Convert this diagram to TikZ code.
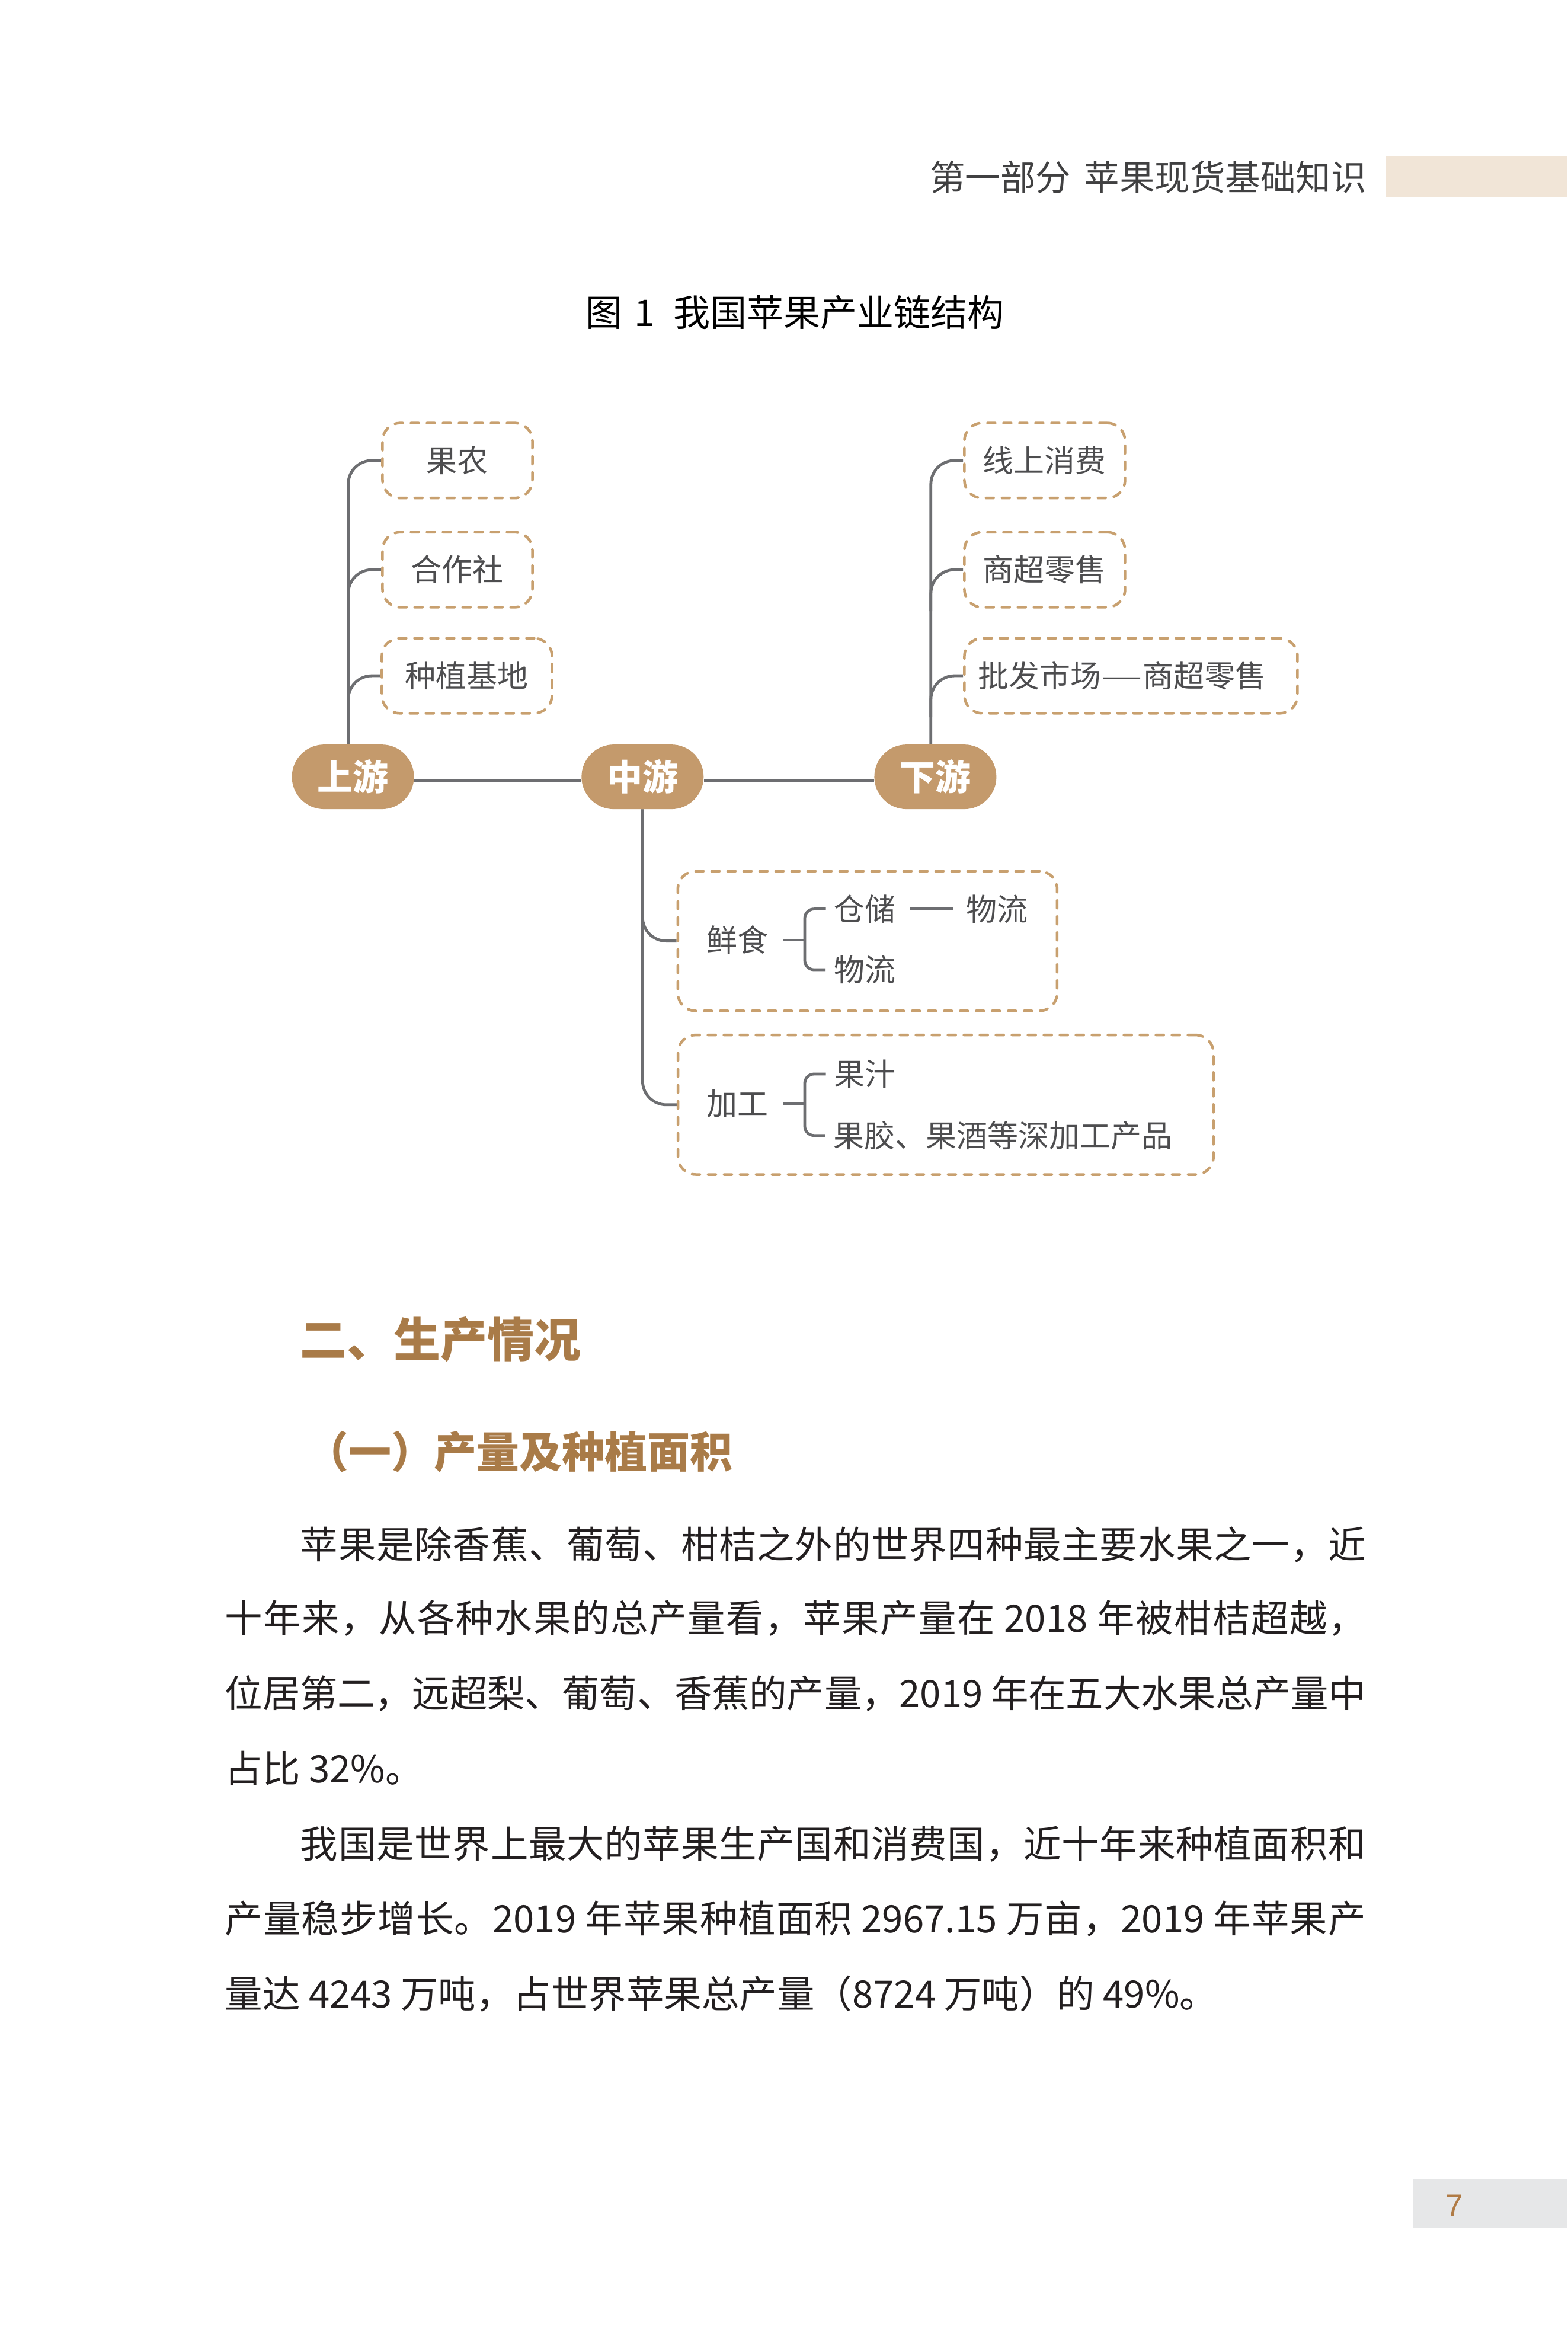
\documentclass[tikz,border=0pt]{standalone}
\usepackage{graphicx}
\usepackage{fontspec}
\setmainfont{Noto Sans CJK SC}
\newfontfamily\numfont{Liberation Sans}
\usetikzlibrary{shapes.misc,backgrounds}
\definecolor{cTan}{HTML}{C49A6C}
\definecolor{cDash}{HTML}{C8A06F}
\definecolor{cConn}{HTML}{6D6E71}
\definecolor{cBoxTxt}{HTML}{4D4D4F}
\definecolor{cBrown}{HTML}{A97B48}
\definecolor{cHdrBar}{HTML}{F1E5D7}
\definecolor{cPgBar}{HTML}{E6E7E8}
\definecolor{cPgNum}{HTML}{B07B45}
\definecolor{cBody}{HTML}{231F20}
\definecolor{cHdr}{HTML}{404041}
\newcommand\setfs[1]{\fontsize{#1pt}{#1pt}\selectfont}
\newskip\sprglue \sprglue=0pt plus 1fil minus 1fil
\def\sprend{\sprend@@}
\newcommand\spr[1]{#1\sprx}
\newcommand\sprx[1]{\ifx\sprend#1\else\hskip\sprglue #1\expandafter\sprx\fi}
\tikzset{
  pill/.style={rounded rectangle, fill=cTan, minimum width=206pt, minimum height=109pt,
    inner sep=0pt, text=white, font=\setfs{60}\bfseries, text height=49.8pt, text depth=4.2pt},
  dbox/.style={draw=cDash, line width=4.5pt, dash pattern=on 13pt off 14pt, line cap=round,
    rounded corners=30pt, inner sep=0pt, text=cBoxTxt, font=\setfs{52},
    text height=43.2pt, text depth=3.6pt},
  conn/.style={draw=cConn, line width=4.8pt},
  lbl/.style={inner sep=0pt, text=cBoxTxt, font=\setfs{52}, text height=43.2pt, text depth=3.6pt},
  body/.style={inner sep=0pt, anchor=base west, text=cBody, font=\setfs{63.5}},
}
\begin{document}
\begin{tikzpicture}[x=2.5311pt, y=-2.5306pt]
\useasboundingbox (0,0) rectangle (1045,1568);
% header
\fill[cHdrBar] (924,104.4) rectangle (1045,131.7);
\node[anchor=base east, inner sep=0pt, text=cHdr, font=\setfs{59.5}] (hdr) at (911,127.2)
  {第一部分\hspace{0.38em}苹果现货基础知识};
% title
\node[anchor=base, inner sep=0pt, text=black, font=\setfs{62}] (title) at (530,217.4)
  {图\hspace{0.32em}1\hspace{0.5em}我国苹果产业链结构};
% pills
\node[pill] (up) at (235.3,517.9) {上游};
\node[pill] (mid) at (428.4,517.9) {中游};
\node[pill] (down) at (623.6,517.9) {下游};
% upstream boxes
\node[dbox, minimum width=253pt, minimum height=126.5pt] (guonong) at (305,307) {果农};
\node[dbox, minimum width=253pt, minimum height=126.5pt] (hezuo) at (305,379.8) {合作社};
\node[dbox, minimum width=287pt, minimum height=126.5pt] (zhongzhi) at (311.3,450.5) {种植基地};
% downstream boxes
\node[dbox, minimum width=271pt, minimum height=126.5pt] (xianshang) at (696.5,307) {线上消费};
\node[dbox, minimum width=271pt, minimum height=126.5pt] (shangchao) at (696.5,379.8) {商超零售};
\node[dbox, minimum width=562pt, minimum height=126.5pt] (pifa) at (754,450.5)
  {批发市场\scalebox{1.5}[1]{—}商超零售\hspace*{30pt}};
% midstream boxes
\node[dbox, minimum width=640pt, minimum height=235.6pt] (xsbox) at (578.35,627.35) {};
\node[dbox, minimum width=903.6pt, minimum height=235.4pt] (jgbox) at (630.5,736.5) {};
% inner labels
\node[lbl] (xs) at (491.65,626.7) {鲜食};
\node[lbl] (cc) at (576.75,606) {仓储};
\node[lbl] (wl1) at (664.75,606) {物流};
\node[lbl] (wl2) at (576.5,646.5) {物流};
\coordinate (xsb) at (536.5,626.7);
\node[lbl] (jg) at (491.65,735.5) {加工};
\node[lbl] (gz) at (576.75,716) {果汁};
\node[lbl, anchor=west] (gj) at (555.5,757) {果胶、果酒等深加工产品};
\coordinate (jgb) at (536.5,735.5);
% connectors
\begin{scope}[on background layer]
\fill[white] (0,0) rectangle (1045,1568);
\coordinate (ut) at ([xshift=-8pt]up.north);
\coordinate (dt) at ([xshift=-7.6pt]down.north);
\draw[conn, rounded corners=40pt] (ut) |- (guonong.west);
\draw[conn, rounded corners=40pt] ([yshift=-70pt]ut |- hezuo.west) |- (hezuo.west);
\draw[conn, rounded corners=40pt] ([yshift=-70pt]ut |- zhongzhi.west) |- (zhongzhi.west);
\draw[conn, rounded corners=40pt] (dt) |- (xianshang.west);
\draw[conn, rounded corners=40pt] ([yshift=-70pt]dt |- shangchao.west) |- (shangchao.west);
\draw[conn, rounded corners=40pt] ([yshift=-70pt]dt |- pifa.west) |- (pifa.west);
\draw[conn] ([yshift=-6pt]up.east) -- ([yshift=-6pt]mid.west);
\draw[conn] ([yshift=-6pt]mid.east) -- ([yshift=-6pt]down.west);
\draw[conn, rounded corners=40pt] (mid.south) |- (xsbox.west);
\draw[conn, rounded corners=40pt] (mid.south) |- (jgbox.west);
\draw[conn] ([xshift=24.8pt]xs.east) -- (xsb);
\draw[conn, rounded corners=16pt] ([xshift=-14pt]cc.west) -| (xsb) |- ([xshift=-14pt]wl2.west);
\draw[conn] ([xshift=24pt]cc.east) -- ([xshift=-21pt]wl1.west);
\draw[conn] ([xshift=24.8pt]jg.east) -- (jgb);
\draw[conn, rounded corners=16pt] ([xshift=-14pt]gz.west) -| (jgb) |- ([xshift=-14pt]gj.west);
\end{scope}
% headings
\node[anchor=base west, inner sep=0pt, text=cBrown, font=\setfs{79}\bfseries] (h2) at (200,904.9) {二、生产情况};
\node[anchor=base west, inner sep=0pt, text=cBrown, font=\setfs{72}\bfseries] (h3) at (204,978.8) {（一）产量及种植面积};
% body
\node[body] (l1) at (150,1038.9) {\hbox to 1925pt{\hspace*{2em}\spr 苹果是除香蕉、葡萄、柑桔之外的世界四种最主要水果之一，近\sprend}};
\node[body] (l2) at (150,1088.1) {\hbox to 1925pt{\spr 十年来，从各种水果的总产量看，苹果产量在{ 2018 }年被柑桔超越，\sprend}};
\node[body] (l3) at (150,1138.3) {\hbox to 1925pt{\spr 位居第二，远超梨、葡萄、香蕉的产量，{2019 }年在五大水果总产量中\sprend}};
\node[body] (l4) at (150,1188.5) {占比 32\%。};
\node[body] (l5) at (150,1238.5) {\hbox to 1925pt{\hspace*{2em}\spr 我国是世界上最大的苹果生产国和消费国，近十年来种植面积和\sprend}};
\node[body] (l6) at (150,1288.5) {\hbox to 1925pt{\spr 产量稳步增长。{2019 }年苹果种植面积{ 2967.15 }万亩，{2019 }年苹果产\sprend}};
\node[body] (l7) at (150,1338.5) {量达 4243 万吨，占世界苹果总产量（8724 万吨）的 49\%。};
% page number
\fill[cPgBar] (942,1452.4) rectangle (1045,1485);
\node[anchor=base, inner sep=0pt, text=cPgNum, font=\numfont\setfs{53}] (pg) at (969.8,1477.7) {7};
\end{tikzpicture}
\end{document}
